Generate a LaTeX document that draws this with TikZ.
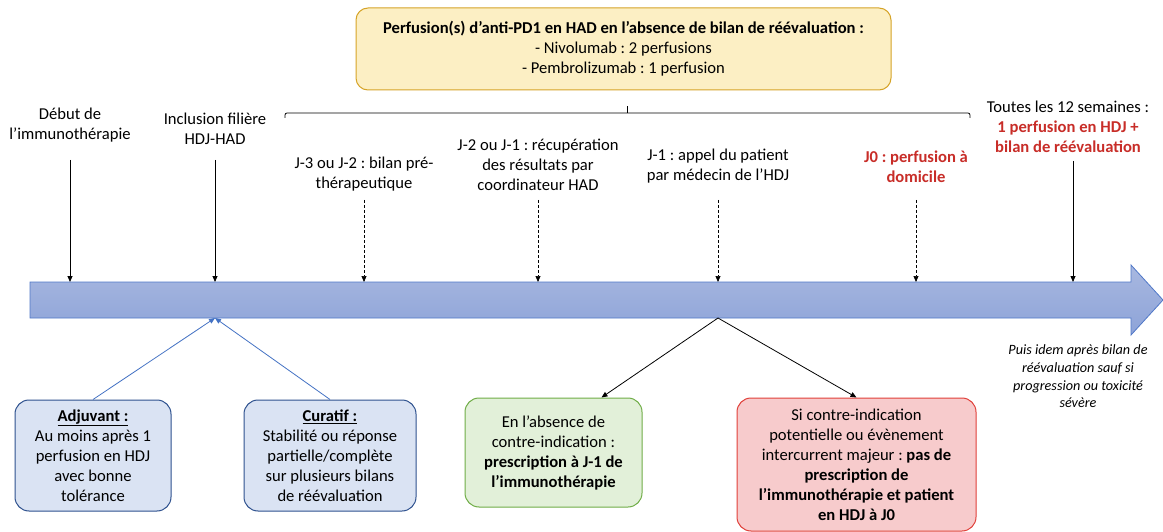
\documentclass[tikz,border=0pt]{standalone}
\usepackage{fontspec}
\setmainfont{Carlito}
\frenchspacing
\usetikzlibrary{arrows.meta}
\definecolor{yelFill}{RGB}{252,239,196}
\definecolor{yelDraw}{RGB}{214,164,40}
\definecolor{bluFill}{RGB}{218,227,243}
\definecolor{bluDraw}{RGB}{47,82,143}
\definecolor{grnFill}{RGB}{226,240,217}
\definecolor{grnDraw}{RGB}{112,173,71}
\definecolor{redFill}{RGB}{247,203,204}
\definecolor{redDraw}{RGB}{224,64,58}
\definecolor{redTxt}{RGB}{200,45,40}
\definecolor{tlTop}{RGB}{168,184,224}
\definecolor{tlBot}{RGB}{141,163,216}
\definecolor{tlDraw}{RGB}{80,120,200}
\definecolor{conBlue}{RGB}{68,114,196}
\begin{document}
\begin{tikzpicture}[x=1pt,y=-1pt,
  lbl/.style={font=\fontsize{16.6}{20}\selectfont, align=center, inner sep=0pt},
  note/.style={font=\fontsize{14.2}{17.7}\selectfont\itshape, align=center, inner sep=0pt},
  boxbase/.style={rounded corners=14pt, line width=1pt, align=center, inner sep=0pt,
    font=\fontsize{16.6}{20}\selectfont},
  yelbox/.style={boxbase, fill=yelFill, draw=yelDraw, rounded corners=12pt},
  blubox/.style={boxbase, fill=bluFill, draw=bluDraw},
  grnbox/.style={boxbase, fill=grnFill, draw=grnDraw},
  redbox/.style={boxbase, fill=redFill, draw=redDraw},
  solidarr/.style={-{Triangle[length=6pt,width=5pt]}, line width=0.8pt, black},
  dasharr/.style={-{Triangle[length=6pt,width=5pt]}, line width=0.7pt, black, dash pattern=on 3pt off 2pt},
  bluarr/.style={-{Triangle[length=6pt,width=5pt]}, line width=0.8pt, conBlue},
  blkarr/.style={-{Triangle[length=6pt,width=5pt]}, line width=0.8pt, black},
  brace/.style={line width=0.8pt, black, rounded corners=2pt}
]
\useasboundingbox (0,0) rectangle (1163,532);
\fill[white] (0,0) rectangle (1163,532);

% top yellow box
\node[yelbox, minimum width=535pt, minimum height=82pt] (yel) at (623.5,49)
  {\textbf{Perfusion(s) d’anti-PD1 en HAD en l’absence de bilan de réévaluation :}\\
   - Nivolumab : 2 perfusions\\
   - Pembrolizumab : 1 perfusion};

% brace
\coordinate (brL) at (285,118);
\coordinate (brR) at (970,118);
\coordinate (brM) at (627,106);
\draw[brace] (brL) -- (285,113) -- (970,113) -- (brR);
\draw[brace] (627,113) -- (brM);

% timeline
\shade[top color=tlTop, bottom color=tlBot, draw=tlDraw, line width=0.8pt]
  (30,282) -- (1131,282) -- (1131,265) -- (1163,300) -- (1131,335) -- (1131,318) -- (30,318) -- cycle;

% labels above
\node[lbl] (debut) at (70,125) {Début de\\l’immunothérapie};
\node[lbl] (incl) at (215,128.5) {Inclusion filière\\HDJ-HAD};
\node[lbl] (j3) at (364,174) {J-3 ou J-2 : bilan pré-\\thérapeutique};
\node[lbl] (j2) at (538,165) {J-2 ou J-1 : récupération\\des résultats par\\coordinateur HAD};
\node[lbl] (j1) at (718,166) {J-1 : appel du patient\\par médecin de l’HDJ};
\node[lbl, text=redTxt, font=\fontsize{16.6}{20}\selectfont\bfseries] (j0) at (916,167) {J0 : perfusion à\\domicile};
\node[lbl] (toutes) at (1068,127) {Toutes les 12 semaines :\\
  \textcolor{redTxt}{\textbf{1 perfusion en HDJ +}}\\\textcolor{redTxt}{\textbf{bilan de réévaluation}}};
\node[note] (puis) at (1078,376.5) {Puis idem après bilan de\\réévaluation sauf si\\progression ou toxicité\\sévère};

% arrows down to timeline
\coordinate (s1) at (70,160);   \coordinate (e1) at (70,282);
\coordinate (s2) at (215,160);  \coordinate (e2) at (215,282);
\coordinate (s3) at (364,200);  \coordinate (e3) at (364,282);
\coordinate (s4) at (538,200);  \coordinate (e4) at (538,282);
\coordinate (s5) at (718,200);  \coordinate (e5) at (718,282);
\coordinate (s6) at (916,200);  \coordinate (e6) at (916,282);
\coordinate (s7) at (1073,161); \coordinate (e7) at (1073,282);
\draw[solidarr] (s1) -- (e1);
\draw[solidarr] (s2) -- (e2);
\draw[dasharr] (s3) -- (e3);
\draw[dasharr] (s4) -- (e4);
\draw[dasharr] (s5) -- (e5);
\draw[dasharr] (s6) -- (e6);
\draw[solidarr] (s7) -- (e7);

% bottom boxes
\node[blubox, minimum width=156pt, minimum height=111pt] (adj) at (93,455.5)
  {\underline{\textbf{Adjuvant :}}\\Au moins après 1\\perfusion en HDJ\\avec bonne\\tolérance};
\node[blubox, minimum width=172pt, minimum height=111pt] (cur) at (330,455.5)
  {\underline{\textbf{Curatif :}}\\Stabilité ou réponse\\partielle/complète\\sur plusieurs bilans\\de réévaluation};
\node[grnbox, minimum width=177pt, minimum height=109pt] (grn) at (553.5,452.5)
  {En l’absence de\\contre-indication :\\\textbf{prescription à J-1 de}\\\textbf{l’immunothérapie}};
\node[redbox, minimum width=239pt, minimum height=133pt] (red) at (856.5,464.5)
  {Si contre-indication\\potentielle ou évènement\\intercurrent majeur : \textbf{pas de}\\\textbf{prescription de}\\\textbf{l’immunothérapie et patient}\\\textbf{en HDJ à J0}};

% connectors below timeline
\coordinate (incB) at (215,318);
\coordinate (split) at (718,318);
\draw[bluarr] (adj.north) -- (incB);
\draw[bluarr] (cur.north) -- (incB);
\draw[blkarr] (split) -- ([xshift=48pt]grn.north);
\draw[blkarr] (split) -- (red.north);
\end{tikzpicture}
\end{document}
